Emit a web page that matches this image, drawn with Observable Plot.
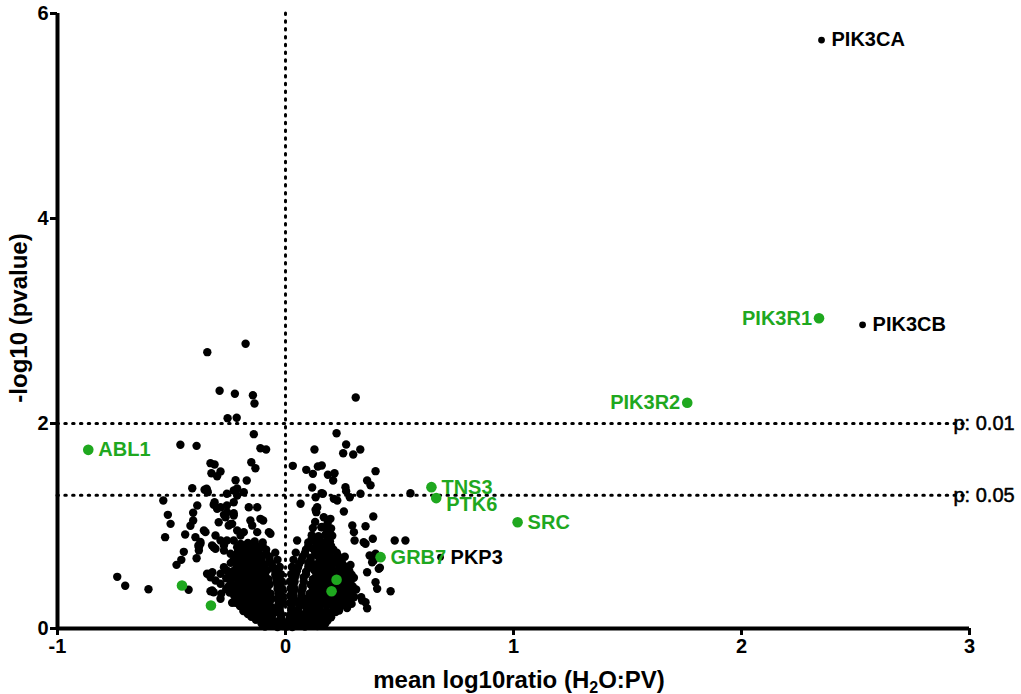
<!DOCTYPE html>
<html>
<head>
<meta charset="utf-8">
<script src="https://cdn.jsdelivr.net/npm/d3@7"></script>
<script src="https://cdn.jsdelivr.net/npm/@observablehq/plot@0.6"></script>
<style>
  html, body { margin: 0; padding: 0; background: #fff; }
  #chart { width: 1021px; height: 694px; }
</style>
</head>
<body>
<div id="chart"></div>
<script>
// ---------- DATA ----------
const xTicks = [-1, 0, 1, 2, 3];
const yTicks = [0, 2, 4, 6];
const pThresholds = [2, 1.3];
const pLabels = ["p: 0.01", "p: 0.05"];

// labelled proteins
const geneNames = ["PIK3CA", "PIK3CB", "PIK3R1", "PIK3R2", "ABL1", "TNS3", "PTK6", "SRC", "GRB7", "PKP3"];
const geneX     = [2.351, 2.531, 2.340, 1.762, -0.865, 0.640, 0.661, 1.018, 0.417, 0.680];
const geneY     = [5.741, 2.963, 3.027, 2.202, 1.743, 1.379, 1.272, 1.037, 0.696, 0.696];
const geneGroup = ["other", "other", "hit", "hit", "hit", "hit", "hit", "hit", "hit", "other"];

// unlabelled highlighted (green) proteins
const greenX = [-0.454, -0.327, 0.224, 0.202];
const greenY = [0.419, 0.224, 0.475, 0.364];

// background proteins: sparse points, left of zero
const scatterLeft = [
  [-0.738,0.504],[-0.703,0.417],[-0.601,0.383],[-0.425,0.378],
  [-0.461,1.792],[-0.390,1.782],[-0.409,1.369],[-0.536,1.249],[-0.516,1.109],[-0.504,1.021],[-0.528,0.891],
  [-0.387,1.200],[-0.405,1.129],[-0.405,1.054],[-0.417,1.002],[-0.440,0.917],[-0.395,0.891],[-0.382,0.810],
  [-0.446,0.748],[-0.457,0.670],[-0.478,0.621],[-0.390,0.686],
  [-0.175,2.778],[-0.343,2.696],[-0.289,2.319],[-0.222,2.290],[-0.143,2.276],[-0.136,2.195],[-0.254,2.052],
  [-0.214,2.056],[-0.139,1.896],[-0.110,1.759],[-0.085,1.746],
  [-0.329,1.613],[-0.311,1.600],[-0.150,1.622],[-0.132,1.564],[-0.325,1.515],[-0.300,1.486],[-0.285,1.532],
  [-0.219,1.447],[-0.170,1.444],[-0.346,1.363],[-0.212,1.366],
  [-0.355,1.353],[-0.341,1.330],[-0.257,1.314],[-0.227,1.346],[-0.212,1.298],[-0.183,1.330],[-0.311,1.232],
  [-0.285,1.183],[-0.300,1.168],[-0.161,1.183],[-0.124,1.183],[-0.257,1.135],[-0.227,1.102],[-0.263,1.086],
  [-0.110,1.070],[-0.098,1.054],[-0.293,1.037],[-0.249,1.005],[-0.234,1.021],[-0.154,1.054],[-0.146,1.005],
  [-0.358,0.956],[-0.351,0.940],[-0.212,0.956],[-0.183,0.940],[-0.197,0.907],[-0.124,0.940],[-0.073,0.940],
  [-0.066,0.924],[-0.373,0.826],[-0.380,0.793],[-0.285,0.859],[-0.257,0.859],[-0.270,0.810],[-0.315,0.793],
  [-0.307,0.778],[-0.227,0.859],[-0.197,0.826],[-0.212,0.793],[-0.270,0.761],[-0.241,0.729],[-0.344,0.534],
  [-0.329,0.500],[-0.321,0.549],[-0.307,0.468],[-0.285,0.436],[-0.329,0.364],[-0.315,0.354],[-0.282,0.339],
  [-0.234,0.251],[-0.270,0.598],[-0.257,0.566],[-0.118,0.107],[-0.080,0.046],
  [-0.373,0.845],[-0.380,0.761],[-0.307,0.907],[-0.322,0.810],[-0.241,1.021],[-0.270,1.109],[-0.227,1.125],
  [-0.315,1.207],[-0.257,1.200],[-0.227,1.232],[-0.285,0.534],[-0.322,0.371],[-0.285,0.290],[-0.241,0.468],
  [-0.227,0.354],[-0.183,0.241],[-0.154,0.176],[-0.124,0.110],[-0.344,1.346]
];

// background proteins: sparse points, right of zero
const scatterRight = [
  [0.308,2.254],[0.224,1.905],[0.266,1.795],[0.253,1.710],[0.297,1.698],[0.328,1.746],[0.127,1.746],
  [0.032,1.587],[0.091,1.548],[0.120,1.509],[0.142,1.580],[0.159,1.590],[0.186,1.500],[0.215,1.515],
  [0.209,1.444],[0.395,1.535],[0.358,1.444],[0.373,1.398],[0.117,1.376],[0.263,1.379],[0.266,1.340],
  [0.548,1.320],[0.066,1.217],[0.132,1.281],[0.139,1.183],[0.135,1.135],[0.164,1.314],[0.212,1.265],
  [0.282,1.281],[0.256,1.141],[0.385,1.093],[0.293,1.005],[0.300,0.940],[0.351,0.998],[0.168,1.086],
  [0.197,1.070],[0.157,0.988],[0.183,0.956],[0.051,0.859],[0.479,0.859],[0.526,0.859],[0.383,0.875],
  [0.351,0.826],[0.395,0.729],[0.387,0.663],[0.409,0.582],[0.358,0.549],[0.395,0.452],[0.402,0.387],
  [0.461,0.364],[0.332,0.305],[0.351,0.257],[0.358,0.198],
  [0.158,1.320],[0.132,1.158],[0.227,1.249],[0.329,1.314],[0.303,0.859],[0.343,0.842],[0.369,0.712],
  [0.380,0.647],[0.414,0.592],[0.300,0.305],[0.336,0.273]
];

// background proteins: dense core, right of zero
const coreRight = [
  [0.005,0.02],[0.03,0.015],[0.055,0.03],[0.085,0.02],[0.11,0.035],[0.14,0.025],[0.165,0.04],
  [0.012,0.05],[0.045,0.045],[0.07,0.055],[0.1,0.05],[0.125,0.045],[0.15,0.055],[0.175,0.05],
  [0.015,0.07],[0.04,0.09],[0.07,0.075],[0.1,0.085],[0.125,0.07],[0.155,0.09],[0.185,0.08],
  [0.02,0.11],[0.05,0.115],[0.09,0.105],[0.115,0.11],[0.145,0.115],[0.17,0.105],[0.2,0.11],
  [0.02,0.13],[0.05,0.15],[0.08,0.14],[0.105,0.155],[0.135,0.135],[0.165,0.15],[0.195,0.14],[0.22,0.16],
  [0.025,0.175],[0.055,0.18],[0.095,0.17],[0.12,0.18],[0.15,0.175],[0.18,0.17],[0.21,0.18],[0.235,0.175],
  [0.025,0.2],[0.06,0.22],[0.09,0.205],[0.12,0.215],[0.15,0.2],[0.18,0.225],[0.21,0.21],[0.24,0.22],[0.27,0.2],
  [0.03,0.245],[0.075,0.25],[0.105,0.24],[0.135,0.245],[0.165,0.25],[0.195,0.24],[0.225,0.25],[0.26,0.245],[0.29,0.24],
  [0.03,0.28],[0.06,0.27],[0.095,0.29],[0.125,0.275],[0.155,0.285],[0.185,0.27],[0.215,0.29],[0.245,0.28],[0.28,0.275],
  [0.035,0.315],[0.07,0.32],[0.11,0.31],[0.14,0.315],[0.17,0.32],[0.2,0.31],[0.23,0.32],[0.265,0.315],[0.3,0.31],
  [0.035,0.35],[0.07,0.36],[0.105,0.34],[0.135,0.355],[0.165,0.345],[0.195,0.36],[0.225,0.345],[0.255,0.355],[0.29,0.34],
  [0.04,0.385],[0.075,0.39],[0.12,0.38],[0.155,0.385],[0.185,0.39],[0.215,0.38],[0.245,0.39],[0.275,0.385],[0.31,0.38],
  [0.035,0.42],[0.075,0.41],[0.11,0.43],[0.14,0.415],[0.17,0.425],[0.2,0.41],[0.23,0.43],[0.26,0.42],[0.295,0.41],
  [0.04,0.455],[0.08,0.46],[0.13,0.45],[0.16,0.455],[0.19,0.46],[0.22,0.45],[0.25,0.46],[0.285,0.455],
  [0.04,0.49],[0.08,0.5],[0.12,0.48],[0.15,0.495],[0.18,0.485],[0.21,0.5],[0.24,0.49],[0.27,0.48],[0.3,0.495],
  [0.045,0.525],[0.09,0.53],[0.135,0.52],[0.165,0.525],[0.2,0.53],[0.23,0.52],[0.26,0.53],[0.29,0.525],
  [0.05,0.56],[0.09,0.555],[0.125,0.57],[0.155,0.56],[0.185,0.565],[0.215,0.555],[0.245,0.57],[0.28,0.56],
  [0.055,0.595],[0.1,0.6],[0.14,0.59],[0.17,0.595],[0.2,0.6],[0.235,0.59],[0.265,0.6],
  [0.06,0.63],[0.1,0.64],[0.13,0.625],[0.16,0.635],[0.19,0.62],[0.22,0.64],[0.25,0.63],[0.285,0.62],
  [0.07,0.665],[0.11,0.67],[0.15,0.66],[0.185,0.665],[0.215,0.67],[0.245,0.66],
  [0.075,0.7],[0.11,0.69],[0.14,0.71],[0.17,0.7],[0.2,0.69],[0.23,0.71],[0.26,0.7],
  [0.085,0.735],[0.13,0.74],[0.165,0.73],[0.195,0.735],[0.225,0.74],
  [0.09,0.77],[0.12,0.78],[0.15,0.765],[0.18,0.775],[0.21,0.77],
  [0.1,0.805],[0.14,0.81],[0.17,0.8],[0.2,0.805],
  [0.1,0.84],[0.13,0.845],[0.165,0.835],[0.195,0.85],
  [0.115,0.875],[0.15,0.87],[0.185,0.88],
  [0.115,0.91],[0.145,0.9],[0.175,0.915],[0.205,0.905],
  [0.12,0.98],[0.16,0.99],[0.2,0.975],
  [0.13,1.04],[0.185,1.03],
  // inner edge, close to zero
  [0.018,0.25],[0.02,0.32],[0.022,0.39],[0.02,0.46],[0.025,0.53],[0.028,0.6],[0.035,0.67],[0.045,0.74]
];

// background proteins: dense core, left of zero
const coreLeft = [
  [-0.01,0.025],[-0.035,0.015],[-0.06,0.03],[-0.09,0.02],
  [-0.015,0.05],[-0.045,0.045],[-0.075,0.055],[-0.105,0.05],
  [-0.015,0.08],[-0.045,0.07],[-0.07,0.09],[-0.1,0.075],[-0.13,0.085],
  [-0.02,0.11],[-0.06,0.115],[-0.09,0.105],[-0.12,0.11],[-0.15,0.115],
  [-0.02,0.14],[-0.05,0.15],[-0.08,0.135],[-0.11,0.145],[-0.14,0.155],[-0.165,0.14],
  [-0.025,0.175],[-0.065,0.18],[-0.095,0.17],[-0.125,0.18],[-0.155,0.175],[-0.185,0.17],
  [-0.025,0.21],[-0.055,0.2],[-0.085,0.22],[-0.115,0.205],[-0.145,0.215],[-0.175,0.2],[-0.2,0.22],
  [-0.03,0.245],[-0.07,0.25],[-0.1,0.24],[-0.13,0.245],[-0.16,0.25],[-0.19,0.24],[-0.22,0.25],
  [-0.03,0.28],[-0.06,0.29],[-0.09,0.27],[-0.12,0.285],[-0.15,0.275],[-0.18,0.29],[-0.21,0.28],
  [-0.03,0.315],[-0.075,0.32],[-0.105,0.31],[-0.135,0.315],[-0.165,0.32],[-0.195,0.31],[-0.225,0.32],
  [-0.03,0.35],[-0.065,0.34],[-0.095,0.36],[-0.125,0.345],[-0.155,0.355],[-0.185,0.34],[-0.215,0.36],[-0.245,0.35],
  [-0.035,0.385],[-0.08,0.39],[-0.11,0.38],[-0.14,0.385],[-0.17,0.39],[-0.2,0.38],[-0.23,0.39],[-0.26,0.385],
  [-0.035,0.42],[-0.07,0.43],[-0.1,0.41],[-0.13,0.425],[-0.16,0.415],[-0.19,0.43],[-0.22,0.42],[-0.25,0.41],
  [-0.04,0.455],[-0.085,0.46],[-0.115,0.45],[-0.145,0.455],[-0.175,0.46],[-0.205,0.45],[-0.24,0.455],
  [-0.04,0.49],[-0.075,0.48],[-0.105,0.5],[-0.135,0.485],[-0.165,0.495],[-0.195,0.48],[-0.225,0.5],[-0.26,0.49],
  [-0.045,0.525],[-0.09,0.53],[-0.12,0.52],[-0.15,0.525],[-0.18,0.53],[-0.21,0.52],[-0.245,0.525],
  [-0.045,0.56],[-0.08,0.57],[-0.11,0.555],[-0.14,0.565],[-0.17,0.55],[-0.2,0.57],[-0.23,0.56],
  [-0.055,0.595],[-0.095,0.6],[-0.125,0.59],[-0.155,0.595],[-0.185,0.6],[-0.215,0.59],
  [-0.06,0.63],[-0.09,0.62],[-0.12,0.64],[-0.15,0.625],[-0.18,0.635],[-0.21,0.62],[-0.24,0.64],
  [-0.07,0.665],[-0.105,0.67],[-0.14,0.66],[-0.17,0.665],[-0.2,0.67],[-0.23,0.66],
  [-0.07,0.7],[-0.1,0.71],[-0.13,0.69],[-0.16,0.705],[-0.19,0.695],[-0.22,0.71],
  [-0.085,0.735],[-0.12,0.74],[-0.15,0.73],[-0.18,0.735],[-0.21,0.74],
  [-0.085,0.77],[-0.115,0.78],[-0.145,0.765],[-0.175,0.775],[-0.205,0.77],
  [-0.1,0.805],[-0.13,0.81],[-0.16,0.8],[-0.19,0.805],
  [-0.1,0.84],[-0.135,0.85],[-0.165,0.835],
  // inner edge, close to zero
  [-0.012,0.25],[-0.014,0.32],[-0.015,0.39],[-0.016,0.46],[-0.02,0.53],[-0.025,0.6],[-0.035,0.67],[-0.045,0.74]
];

// ---------- BUILD ----------
const GREEN = "#1fa81f";
const FONT = "'Liberation Sans', Arial, Helvetica, sans-serif";

const background = [...scatterLeft, ...scatterRight, ...coreRight, ...coreLeft].map(([x, y]) => ({x, y}));
const greens = greenX.map((x, i) => ({x, y: greenY[i]}));
const genes = geneNames.map((name, i) => ({name, x: geneX[i], y: geneY[i], group: geneGroup[i]}));
const pRows = pThresholds.map((y, i) => ({y, label: pLabels[i]}));

const leftLabelled = new Set(["PIK3R1", "PIK3R2"]);
const loweredLabel = new Set(["PTK6"]);
const hits = genes.filter(d => d.group === "hit");
const others = genes.filter(d => d.group !== "hit");
const labelsRight = genes.filter(d => !leftLabelled.has(d.name) && !loweredLabel.has(d.name));
const labelsLower = genes.filter(d => loweredLabel.has(d.name));
const labelsLeft = genes.filter(d => leftLabelled.has(d.name));
const colorOf = d => d.group === "hit" ? GREEN : "#000";

const dotted = {stroke: "#000", strokeWidth: 3, strokeDasharray: "1.5,6.3", strokeLinecap: "round"};
const labelStyle = {x: "x", y: "y", text: "name", fill: colorOf, fontSize: 20, fontWeight: "bold", fontFamily: FONT};

const chart = Plot.plot({
  width: 1021,
  height: 694,
  marginLeft: 57,
  marginRight: 52,
  marginTop: 13,
  marginBottom: 66,
  style: {fontFamily: FONT, fontSize: "20px", background: "#fff", color: "#000", overflow: "visible"},
  x: {domain: [-1, 3]},
  y: {domain: [0, 6]},
  marks: [
    // reference lines
    Plot.ruleX([0], dotted),
    Plot.ruleY(pRows, {y: "y", ...dotted}),
    // background proteins
    Plot.dot(background, {x: "x", y: "y", r: 4.2, fill: "#000", stroke: "none"}),
    // highlighted proteins
    Plot.dot(greens, {x: "x", y: "y", r: 5.3, fill: GREEN, stroke: "none"}),
    Plot.dot(hits, {x: "x", y: "y", r: 5.3, fill: GREEN, stroke: "none"}),
    Plot.dot(others, {x: "x", y: "y", r: 3.4, fill: "#000", stroke: "none"}),
    Plot.text(labelsRight, {...labelStyle, textAnchor: "start", dx: 10}),
    Plot.text(labelsLower, {...labelStyle, textAnchor: "start", dx: 10, dy: 6}),
    Plot.text(labelsLeft, {...labelStyle, textAnchor: "end", dx: -7}),
    Plot.text(pRows, {x: () => 3, y: "y", text: "label", textAnchor: "start", dx: -16, fontSize: 20,
      fill: "#000", stroke: "#000", strokeWidth: 0.5, fontFamily: FONT}),
    // axes
    Plot.ruleX([-1], {strokeWidth: 4, stroke: "#000"}),
    Plot.ruleY([0], {strokeWidth: 4, stroke: "#000"}),
    Plot.axisX({ticks: xTicks, tickFormat: d => String(d), tickSize: 7, tickPadding: 3, strokeWidth: 3,
      fontSize: 20, fontWeight: "bold", label: null}),
    Plot.axisY({ticks: yTicks, tickFormat: d => String(d), tickSize: 7, tickPadding: 2, strokeWidth: 3,
      fontSize: 20, fontWeight: "bold", label: null})
  ]
});

document.getElementById("chart").appendChild(chart);

// axis titles
const svg = d3.select(chart);
const xt = svg.append("text")
  .attr("x", 519).attr("y", 688)
  .attr("text-anchor", "middle")
  .attr("font-family", FONT).attr("font-size", 24).attr("font-weight", "bold").attr("fill", "#000");
xt.append("tspan").text("mean log10ratio (H");
xt.append("tspan").attr("font-size", 16).attr("dy", 5).text("2");
xt.append("tspan").attr("dy", -5).text("O:PV)");

svg.append("text")
  .attr("transform", "translate(27,318) rotate(-90)")
  .attr("text-anchor", "middle")
  .attr("font-family", FONT).attr("font-size", 24).attr("font-weight", "bold").attr("fill", "#000")
  .text("-log10 (pvalue)");
</script>
</body>
</html>
